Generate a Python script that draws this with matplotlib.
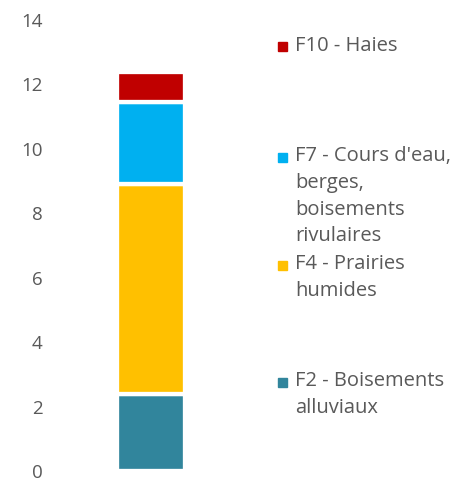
import matplotlib.pyplot as plt
from matplotlib.patches import Rectangle

# values (stacked, bottom to top)
series_names = ["F2 - Boisements\nalluviaux",
                "F4 - Prairies\nhumides",
                "F7 - Cours d'eau,\nberges,\nboisements\nrivulaires",
                "F10 - Haies"]
series_values = [2.4, 6.5, 2.55, 0.95]
colors = ["#31859C", "#FFC000", "#00B0F0", "#C00000"]
yticks = [0, 2, 4, 6, 8, 10, 12, 14]

# legend anchor heights (figure fraction) for each entry, same order
legend_y = [0.207, 0.450, 0.674, 0.903]

txt = "#595959"
plt.rcParams["font.family"] = ["Open Sans", "DejaVu Sans"]

fig = plt.figure(figsize=(4.6, 4.82), dpi=100)
ax = fig.add_axes([55 / 460, 11 / 482, 192 / 460, 451 / 482])

bottom = 0
for val, col in zip(series_values, colors):
    ax.bar(0, val, bottom=bottom, width=0.356, color=col,
           edgecolor="white", linewidth=3.1)
    bottom += val

ax.set_xlim(-0.5, 0.5)
ax.set_ylim(0, 14)
ax.set_yticks(yticks)
ax.set_yticklabels([str(t) for t in yticks])
ax.set_xticks([])
ax.tick_params(axis="y", length=0, pad=9, labelsize=13.5, labelcolor=txt)
for s in ax.spines.values():
    s.set_visible(False)

# legend drawn by hand so the long labels can sit like the original
for name, col, y in zip(series_names, colors, legend_y):
    fig.patches.append(Rectangle((278 / 460, y - 4.5 / 482), 9 / 460, 9 / 482,
                                 transform=fig.transFigure, color=col))
    fig.text(295 / 460, y + 11 / 482, name, fontsize=14.5, color=txt,
             va="top", ha="left", linespacing=1.45)

plt.savefig("out.png", dpi=100)
